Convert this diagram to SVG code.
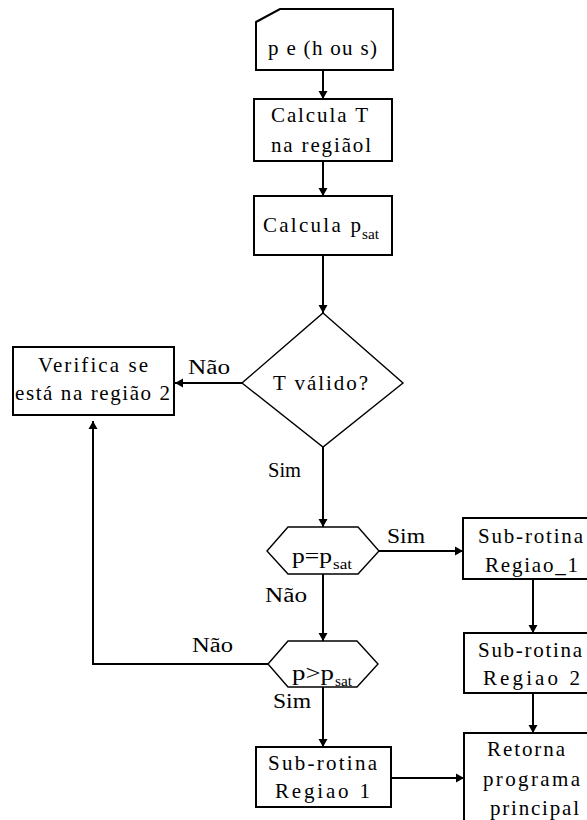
<svg xmlns="http://www.w3.org/2000/svg" width="587" height="820" viewBox="0 0 587 820">
  <style>
    .box { fill: #ffffff; stroke: #000000; stroke-width: 2; }
    .thin { fill: #ffffff; stroke: #000000; stroke-width: 1.4; }
    .t { font-family: "Liberation Serif", "DejaVu Serif", "Times New Roman", serif; font-size: 21px; fill: #000000; }
    .sub { font-family: "Liberation Serif", "DejaVu Serif", "Times New Roman", serif; font-size: 14px; fill: #000000; }
    .lbl { font-family: "Liberation Serif", "DejaVu Serif", "Times New Roman", serif; font-size: 20px; fill: #000000; }
    .edge { fill: none; stroke: #000000; stroke-width: 2; }
  </style>
  <defs>
    <marker id="arrow" markerUnits="userSpaceOnUse" markerWidth="10" markerHeight="10" refX="8" refY="5" orient="auto">
      <path d="M0,0.5 L8,5 L0,9.5 z" fill="#000000"/>
    </marker>
  </defs>
  <rect width="587" height="820" fill="#ffffff"/>

  <!-- connectors and their branch labels -->
  <g id="connectors">
    <path class="edge" d="M323,70 L323,99" marker-end="url(#arrow)"/>
    <path class="edge" d="M323,161 L323,196" marker-end="url(#arrow)"/>
    <path class="edge" d="M323,255 L323,313" marker-end="url(#arrow)"/>
    <path class="edge" d="M242,383 L175,383" marker-end="url(#arrow)"/>
    <path class="edge" d="M323,447 L323,527" marker-end="url(#arrow)"/>
    <path class="edge" d="M379,551 L463,551" marker-end="url(#arrow)"/>
    <path class="edge" d="M533,579 L533,633" marker-end="url(#arrow)"/>
    <path class="edge" d="M323,574 L323,641" marker-end="url(#arrow)"/>
    <path class="edge" d="M268,664 L93,664 L93,421" marker-end="url(#arrow)"/>
    <path class="edge" d="M323,687 L323,747" marker-end="url(#arrow)"/>
    <path class="edge" d="M533,693 L533,733" marker-end="url(#arrow)"/>
    <path class="edge" d="M391,778 L464,778" marker-end="url(#arrow)"/>
    <text class="lbl" x="188" y="374" textLength="42" lengthAdjust="spacingAndGlyphs">Não</text>
    <text class="lbl" x="268" y="477" textLength="33" lengthAdjust="spacingAndGlyphs">Sim</text>
    <text class="lbl" x="387" y="543" textLength="38" lengthAdjust="spacingAndGlyphs">Sim</text>
    <text class="lbl" x="265" y="602" textLength="42" lengthAdjust="spacingAndGlyphs">Não</text>
    <text class="lbl" x="192" y="652" textLength="41" lengthAdjust="spacingAndGlyphs">Não</text>
    <text class="lbl" x="273" y="708" textLength="38" lengthAdjust="spacingAndGlyphs">Sim</text>
  </g>

  <!-- input card -->
  <g id="input">
    <path class="box" d="M256,22 L280,9 L393,9 L393,70 L256,70 Z"/>
    <text class="t" x="268" y="55" textLength="109" lengthAdjust="spacing">p e (h ou s)</text>
  </g>

  <g id="calcT">
    <rect class="box" x="254" y="99" width="138" height="62"/>
    <text class="t" x="271" y="122" textLength="97" lengthAdjust="spacing">Calcula T</text>
    <text class="t" x="271" y="152" textLength="100" lengthAdjust="spacing">na regiãol</text>
  </g>

  <g id="calcPsat">
    <rect class="box" x="254" y="196" width="138" height="59"/>
    <text class="t" x="263" y="232" textLength="98" lengthAdjust="spacing">Calcula p</text>
    <text class="sub" x="362" y="239" textLength="17" lengthAdjust="spacingAndGlyphs">sat</text>
  </g>

  <g id="tValido">
    <polygon class="thin" points="323,313 403,383 323,447 242,383"/>
    <text class="t" x="273" y="390" textLength="95" lengthAdjust="spacing">T válido?</text>
  </g>

  <g id="verifica">
    <rect class="box" x="13" y="347" width="161" height="68"/>
    <text class="t" x="38" y="372" textLength="110" lengthAdjust="spacing">Verifica se</text>
    <text class="t" x="15" y="400" textLength="155" lengthAdjust="spacing">está na região 2</text>
  </g>

  <g id="pIgualPsat">
    <polygon class="thin" points="267,551 288,527 358,527 379,551 358,574 288,574"/>
    <text class="t" x="292" y="563" textLength="40" lengthAdjust="spacingAndGlyphs">p=p</text>
    <text class="sub" x="333" y="569" textLength="19" lengthAdjust="spacingAndGlyphs">sat</text>
  </g>

  <g id="pMaiorPsat">
    <polygon class="thin" points="268,664 288,641 357,641 378,664 357,687 288,687"/>
    <text class="t" x="292" y="680" textLength="42" lengthAdjust="spacingAndGlyphs">p&gt;p</text>
    <text class="sub" x="335" y="686" textLength="17" lengthAdjust="spacingAndGlyphs">sat</text>
  </g>

  <g id="subRegiao1Right">
    <rect class="box" x="463" y="518" width="140" height="61"/>
    <text class="t" x="478" y="543" textLength="105" lengthAdjust="spacing">Sub-rotina</text>
    <text class="t" x="485" y="572" textLength="93" lengthAdjust="spacing">Regiao_1</text>
  </g>

  <g id="subRegiao2">
    <rect class="box" x="464" y="633" width="140" height="60"/>
    <text class="t" x="478" y="657" textLength="104" lengthAdjust="spacing">Sub-rotina</text>
    <text class="t" x="483" y="685" textLength="97" lengthAdjust="spacing">Regiao 2</text>
  </g>

  <g id="subRegiao1">
    <rect class="box" x="256" y="747" width="135" height="60"/>
    <text class="t" x="268" y="770" textLength="109" lengthAdjust="spacing">Sub-rotina</text>
    <text class="t" x="275" y="798" textLength="95" lengthAdjust="spacing">Regiao 1</text>
  </g>

  <g id="retorna">
    <rect class="box" x="464" y="733" width="140" height="95"/>
    <text class="t" x="487" y="756" textLength="78" lengthAdjust="spacing">Retorna</text>
    <text class="t" x="483" y="786" textLength="97" lengthAdjust="spacing">programa</text>
    <text class="t" x="490" y="815" textLength="89" lengthAdjust="spacing">principal</text>
  </g>
</svg>
